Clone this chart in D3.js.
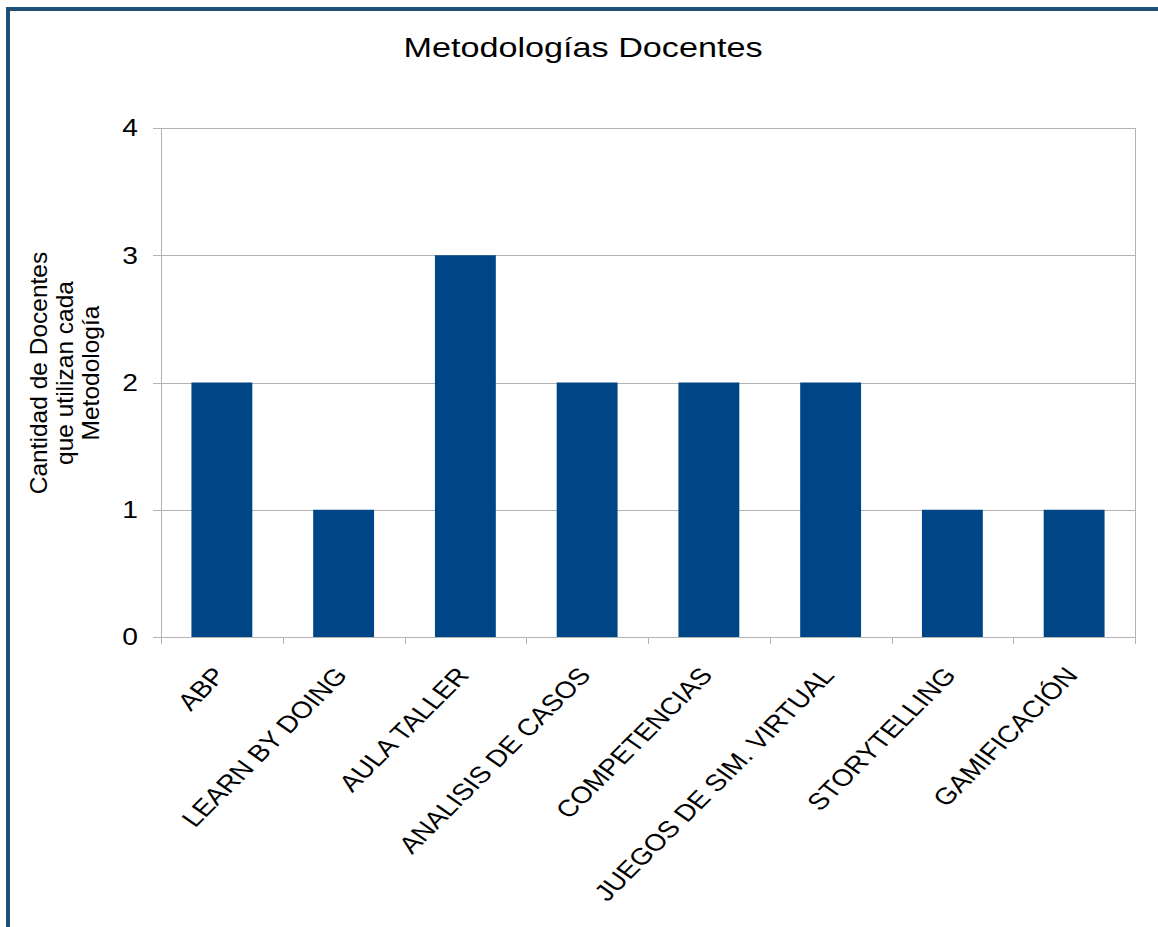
<!DOCTYPE html>
<html>
<head>
<meta charset="utf-8">
<script src="https://cdn.jsdelivr.net/npm/d3@7"></script>
<style>
  body { margin: 0; background: #fff; }
  svg { display: block; font-family: "Liberation Sans", Arial, sans-serif; }
</style>
</head>
<body>
<div id="chart"></div>
<script>
const categories = ["ABP", "LEARN BY DOING", "AULA TALLER", "ANALISIS DE CASOS",
  "COMPETENCIAS", "JUEGOS DE SIM. VIRTUAL", "STORYTELLING", "GAMIFICACIÓN"];
const values = [2, 1, 3, 2, 2, 2, 1, 1];
const yTicks = [0, 1, 2, 3, 4];
const yTitle = ["Cantidad de Docentes", "que utilizan cada", "Metodología"];

const width = 1158, height = 927;
const margin = {top: 128, right: 23, bottom: 290, left: 161};
const sx = 1.2; // text in the original is rendered wide

const svg = d3.select("#chart").append("svg")
    .attr("width", width)
    .attr("height", height);

// outer frame
svg.append("path")
    .attr("d", `M8,${height} V9 H${width + 5}`)
    .attr("fill", "none")
    .attr("stroke", "#1f4e79")
    .attr("stroke-width", 4);

const x = d3.scaleBand()
    .domain(categories)
    .range([margin.left, width - margin.right])
    .paddingInner(0.5)
    .paddingOuter(0.25);

const xEdges = d3.scaleLinear()
    .domain([0, categories.length])
    .range([margin.left, width - margin.right]);

const y = d3.scaleLinear()
    .domain([0, 4])
    .range([height - margin.bottom, margin.top]);

svg.append("text")
    .attr("transform", `translate(583,57) scale(${sx},1)`)
    .attr("text-anchor", "middle")
    .attr("font-size", 28.5)
    .text("Metodologías Docentes");

// gridlines
svg.append("g")
  .selectAll("line")
  .data(yTicks)
  .join("line")
    .attr("x1", margin.left - 8)
    .attr("x2", width - margin.right)
    .attr("y1", d => Math.round(y(d)) + 0.5)
    .attr("y2", d => Math.round(y(d)) + 0.5)
    .attr("stroke", "#b3b3b3");

// right frame of plot
svg.append("line")
    .attr("x1", width - margin.right + 0.5)
    .attr("x2", width - margin.right + 0.5)
    .attr("y1", y(4))
    .attr("y2", y(0))
    .attr("stroke", "#b3b3b3");

// bars
svg.append("g")
  .selectAll("rect")
  .data(values)
  .join("rect")
    .attr("x", (d, i) => x(categories[i]))
    .attr("width", x.bandwidth())
    .attr("y", d => y(d))
    .attr("height", d => y(0) - y(d))
    .attr("fill", "#004586");

// y axis line
svg.append("line")
    .attr("x1", margin.left + 0.5)
    .attr("x2", margin.left + 0.5)
    .attr("y1", y(4))
    .attr("y2", y(0) + 7)
    .attr("stroke", "#b3b3b3");

// x ticks at category edges
svg.append("g")
  .selectAll("line")
  .data(d3.range(categories.length + 1))
  .join("line")
    .attr("x1", d => Math.round(xEdges(d)) + 0.5)
    .attr("x2", d => Math.round(xEdges(d)) + 0.5)
    .attr("y1", y(0))
    .attr("y2", y(0) + 7)
    .attr("stroke", "#b3b3b3");

// y tick labels
svg.append("g")
    .attr("font-size", 23.5)
  .selectAll("text")
  .data(yTicks)
  .join("text")
    .attr("transform", d => `translate(138,${y(d)}) scale(${sx},1)`)
    .attr("dy", "0.36em")
    .attr("text-anchor", "end")
    .text(d => d);

// x labels
svg.append("g")
    .attr("font-size", 23.5)
  .selectAll("text")
  .data(categories)
  .join("text")
    .attr("transform", d => `translate(${x(d) + x.bandwidth() / 2 + 5},676) scale(${sx},1) rotate(-50)`)
    .attr("text-anchor", "end")
    .text(d => d);

// y title
svg.append("text")
    .attr("transform", `translate(0,373) rotate(-90)`)
    .attr("text-anchor", "middle")
    .attr("font-size", 24.5)
  .selectAll("tspan")
  .data(yTitle)
  .join("tspan")
    .attr("x", 0)
    .attr("y", (d, i) => 47 + i * 26)
    .text(d => d);
</script>
</body>
</html>
